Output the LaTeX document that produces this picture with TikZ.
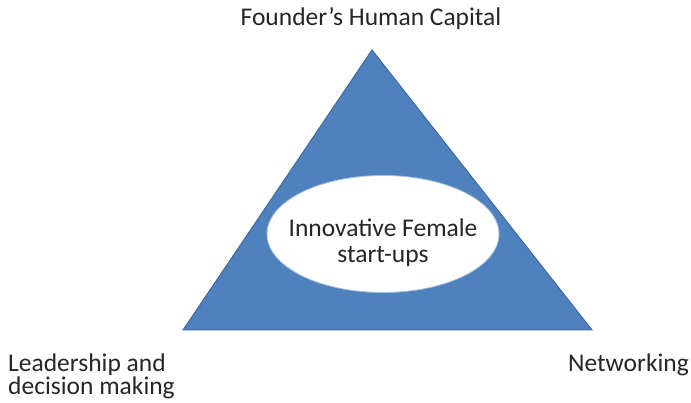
\documentclass[tikz,border=0pt]{standalone}
\usepackage{fontspec}
\setmainfont{Carlito}
\usetikzlibrary{shapes.geometric}
\definecolor{triblue}{HTML}{4F81BD}
\definecolor{triedge}{HTML}{3C6A9E}
\begin{document}
\begin{tikzpicture}[x=1pt,y=-1pt,
  label/.style={font=\fontsize{25.5}{23.5}\selectfont, text=black!85, inner sep=0pt},
  disc/.style={ellipse, fill=white, draw=triblue!50, line width=0.8pt,
    minimum width=232pt, minimum height=117pt, inner sep=0pt}]
\useasboundingbox (0,0) rectangle (691,403);
% triangle of the three factors
\coordinate (apex) at (372,50);
\coordinate (bl) at (183,330);
\coordinate (br) at (592,330);
\filldraw[fill=triblue, draw=triedge, line width=1pt, line join=miter] (apex) -- (bl) -- (br) -- cycle;
% central venture (multi-line nodes sit on the baseline of their last line)
\node[disc] (oval) at (383,234) {};
\node[label, font=\fontsize{25.5}{26}\selectfont, align=center, anchor=base]
  (center) at (383,263) {Innovative Female\\start-ups};
% corner labels
\node[label, anchor=center] (top) at (371,19) {Founder’s Human Capital};
\node[label, anchor=base west, align=left] (left) at (8,395) {Leadership and\\decision making};
\node[label, anchor=base east] (right) at (689,372) {Networking};
\end{tikzpicture}
\end{document}
